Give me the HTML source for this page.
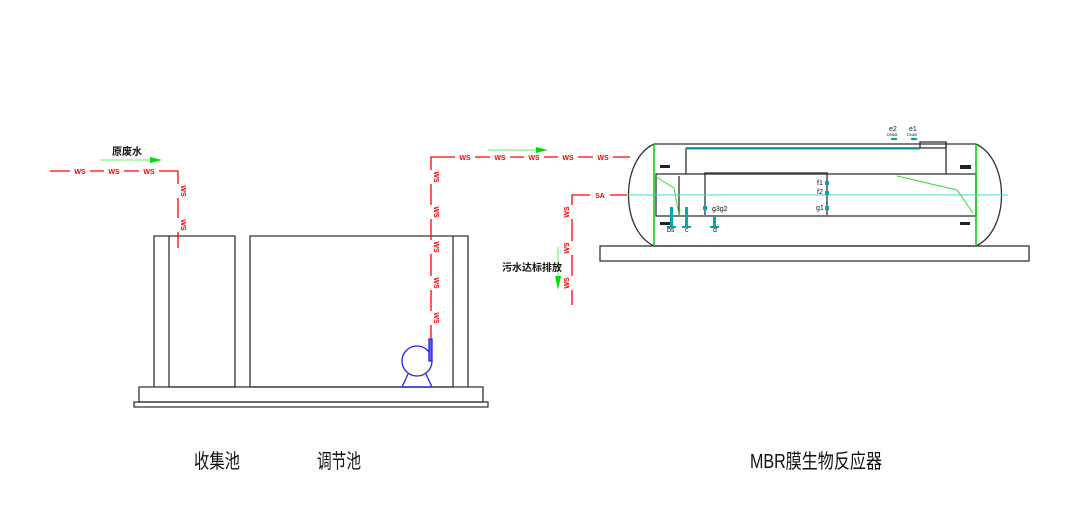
<!DOCTYPE html>
<html><head><meta charset="utf-8"><style>
html,body{margin:0;padding:0;background:#fff;width:1078px;height:518px;overflow:hidden}
svg{display:block}
.r{stroke:#ff0000;stroke-width:1.3;fill:none}
.k{stroke:#333;stroke-width:1.3;fill:none}
.lb{font-family:"Liberation Sans",sans-serif;font-size:7px;fill:#ff0000;font-weight:bold}
.c{stroke:#00cccc;stroke-width:1.2;fill:none}
.cn{font-family:"Liberation Sans","Noto Sans CJK SC",sans-serif;fill:#111}
</style></head><body>
<svg width="1078" height="518" viewBox="0 0 1078 518" xmlns="http://www.w3.org/2000/svg">
<!-- tanks -->
<g class="k">
<path d="M154 387 V236 H169 V387"/>
<path d="M169 236 H235 V387"/>
<path d="M250 387 V236 H468 V387"/>
<path d="M453 236 V387"/>
<path d="M139 387 H483 V402 H139 Z"/>
<path d="M134 402 H488 V407 H134 Z"/>
<path d="M169 387 H235 M250 387 H453"/>
</g>
<!-- pump -->
<g stroke="#2222ee" stroke-width="1.3" fill="none">
<circle cx="417" cy="361" r="15"/>
<path d="M408 374 L402 387 H432 L426 374"/>
<rect x="429" y="339" width="3" height="22" fill="#6666ff"/>
</g>
<!-- red pipes left -->
<g class="r">
<path d="M50 171 H178 V248"/>
<path d="M431 339 V157 H630"/>
<path d="M627 195 H572 V305"/>
</g>
<g fill="#fff">
<rect x="70" y="167" width="20" height="8"/><rect x="104" y="167" width="20" height="8"/><rect x="139" y="167" width="20" height="8"/>
<rect x="174" y="184" width="8" height="14"/><rect x="174" y="218" width="8" height="14"/>
<rect x="427" y="170" width="8" height="14"/><rect x="427" y="205" width="8" height="14"/><rect x="427" y="240" width="8" height="14"/><rect x="427" y="276" width="8" height="14"/><rect x="427" y="311" width="8" height="14"/>
<rect x="455" y="153" width="20" height="8"/><rect x="490" y="153" width="20" height="8"/><rect x="524" y="153" width="20" height="8"/><rect x="558" y="153" width="20" height="8"/><rect x="593" y="153" width="20" height="8"/>
<rect x="590" y="191" width="20" height="8"/>
<rect x="568" y="205" width="8" height="14"/><rect x="568" y="241" width="8" height="14"/><rect x="568" y="276" width="8" height="14"/>
</g>
<g class="lb" text-anchor="middle">
<text x="80" y="174">WS</text><text x="114" y="174">WS</text><text x="149" y="174">WS</text>
<text x="465" y="160">WS</text><text x="500" y="160">WS</text><text x="534" y="160">WS</text><text x="568" y="160">WS</text><text x="603" y="160">WS</text>
<text x="600" y="198">SA</text>
<text transform="translate(181,191) rotate(90)">WS</text>
<text transform="translate(181,225) rotate(90)">WS</text>
<text transform="translate(434,177) rotate(90)">WS</text>
<text transform="translate(434,212) rotate(90)">WS</text>
<text transform="translate(434,247) rotate(90)">WS</text>
<text transform="translate(434,283) rotate(90)">WS</text>
<text transform="translate(434,318) rotate(90)">WS</text>
<text transform="translate(569,212) rotate(-90)">WS</text>
<text transform="translate(569,248) rotate(-90)">WS</text>
<text transform="translate(569,283) rotate(-90)">WS</text>
</g>
<!-- green arrows -->
<g stroke="#66ee66" stroke-width="1" fill="#00dd00">
<line x1="100" y1="160" x2="152" y2="160"/><path d="M150 157 L162 160 L150 163 Z" stroke="none"/>
<line x1="488" y1="150" x2="538" y2="150"/><path d="M536 147 L548 150 L536 153 Z" stroke="none"/>
<line x1="558" y1="247" x2="558" y2="280"/><path d="M555 276 L558 290 L561 276 Z" stroke="none"/>
</g>
<text class="cn" x="112" y="155" font-size="10" font-weight="bold">原废水</text>
<text class="cn" x="502" y="271" font-size="10" font-weight="bold">污水达标排放</text>
<!-- reactor -->
<g class="k">
<path d="M654 144 H976 M654 246 H976"/>
<path d="M654 144 C620 160 620 230 654 246"/>
<path d="M976 144 C1010 160 1010 230 976 246"/>
<rect x="600" y="246" width="429" height="15"/>
<rect x="656" y="174" width="320" height="42"/>
<path d="M686 148 V174 M705 174 V215 M679 176 V215 M827 174 V215 M946 142 V174"/>
<rect x="920" y="142" width="26" height="6"/>
<path d="M686 148 H920"/>
<path d="M704 173 H828"/>
</g>
<g stroke="#00cc00" stroke-width="1.5" fill="none">
<path d="M654 144 V246 M976 144 V246"/>
</g>
<g stroke="#33dd33" stroke-width="1" fill="none">
<path d="M656 177 L674 188 L679 215 M897 176 L957 190 L973 213"/>
</g>
<line x1="627" y1="195" x2="1008" y2="195" stroke="#33dddd" stroke-width="1"/>
<path class="c" d="M686 149 H920"/>
<g fill="#222"><rect x="660" y="165" width="10" height="3"/><rect x="960" y="165" width="11" height="4"/><rect x="660" y="222" width="10" height="3"/><rect x="960" y="222" width="10" height="3"/></g>
<g fill="#00aaaa">
<rect x="825" y="181" width="4" height="4"/><rect x="825" y="191" width="4" height="4"/><rect x="825" y="206" width="4" height="4"/><rect x="703" y="206" width="4" height="4"/>
<rect x="891" y="138" width="6" height="2"/><rect x="911" y="138" width="6" height="2"/>
<rect x="670" y="207" width="3" height="20"/><rect x="685" y="207" width="3" height="20"/><rect x="713" y="215" width="3" height="12"/>
<rect x="667" y="226" width="9" height="2"/><rect x="682" y="226" width="9" height="2"/><rect x="710" y="226" width="9" height="2"/>
</g>
<g font-family="Liberation Sans,sans-serif" font-size="7" fill="#111">
<text x="817" y="185">f1</text><text x="817" y="194">f2</text><text x="816" y="210">g1</text>
<text x="712" y="211">g3g2</text>
<text x="667" y="232">bs</text><text x="685" y="232">c</text><text x="713" y="232">d</text>
<text x="889" y="131">e2</text><text x="909" y="131">e1</text>
<text x="887" y="136" font-size="4">DN65</text><text x="907" y="136" font-size="4">DN65</text>
</g>
<!-- captions -->
<g class="cn" font-size="20">
<text x="194" y="468" textLength="46" lengthAdjust="spacingAndGlyphs">收集池</text>
<text x="317" y="468" textLength="44" lengthAdjust="spacingAndGlyphs">调节池</text>
<text x="750" y="468" textLength="132" lengthAdjust="spacingAndGlyphs">MBR膜生物反应器</text>
</g>
</svg>
</body></html>
